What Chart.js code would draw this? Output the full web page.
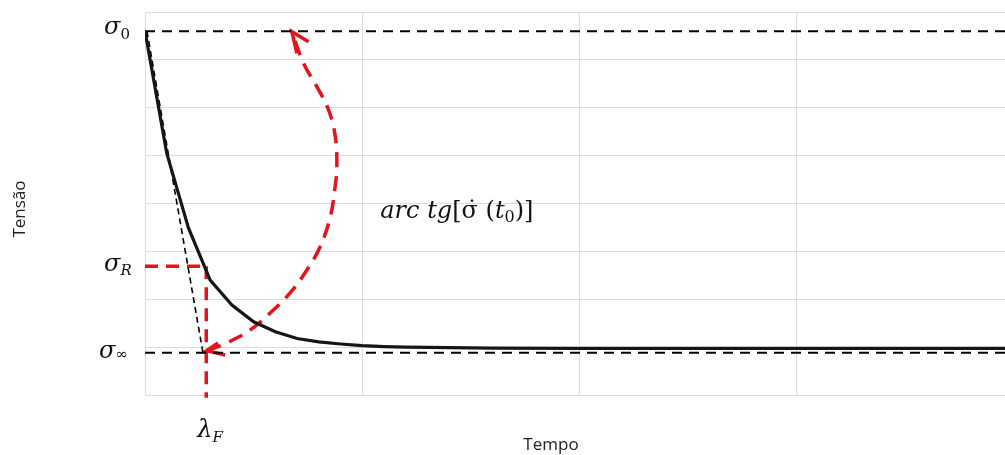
<!DOCTYPE html>
<html>
<head>
<meta charset="utf-8">
<script src="https://cdn.jsdelivr.net/npm/chart.js@4"></script>
<style>
  html, body { margin: 0; padding: 0; background: #fff; overflow: hidden; }
  #wrap { width: 1020px; height: 455px; position: relative; }
</style>
</head>
<body>
<div id="wrap"><canvas id="relaxChart"></canvas></div>
<script>
// stress relaxation curve (tempo in grid units, tensão in grid units)
const timeValues    = [0, 0.1, 0.2, 0.3, 0.4, 0.5, 0.6, 0.7, 0.8, 0.9, 1.0, 1.1, 1.2, 1.4, 1.6, 2.0, 3.0, 4.0];
const tensionValues = [7.60, 5.05, 3.49, 2.40, 1.88, 1.53, 1.32, 1.18, 1.11, 1.065, 1.03, 1.01, 1.0, 0.99, 0.98, 0.975, 0.975, 0.975];

// reference levels
const sigma0 = 7.60;
const sigmaR = 2.69;
const sigmaInf = 0.88;
const lambdaF = 0.282;
const xMax = 4;

// tangent at t0
const tangentX = [0.009, 0.267];
const tangentY = [7.60, 0.877];

// red arc (arc tg) and arrow heads
const arcX = [0.284, 0.376, 0.484, 0.576, 0.668, 0.745, 0.806, 0.853, 0.876, 0.883, 0.876, 0.845, 0.791, 0.730, 0.676];
const arcY = [0.925, 1.086, 1.358, 1.713, 2.131, 2.611, 3.098, 3.724, 4.386, 4.769, 5.395, 5.953, 6.440, 6.928, 7.589];
const arrowTopX = [0.699, 0.676, 0.753];
const arrowTopY = [7.137, 7.589, 7.380];
const arrowBotX = [0.336, 0.284, 0.369];
const arrowBotY = [1.086, 0.925, 0.836];

const RED = '#e3141b';
const pts = (xs, ys) => xs.map((x, i) => ({ x: x, y: ys[i] }));

function lineSet(data, color, width, dash, extra) {
    return Object.assign({
        data: data,
        borderColor: color,
        borderWidth: width,
        borderDash: dash,
        pointRadius: 0,
        showLine: true,
        fill: false,
        tension: 0
    }, extra || {});
}

// draws a symbol with a subscript; returns total width
function drawSub(ctx, x, y, main, sub, mainFont, subFont, subDrop) {
    ctx.font = mainFont;
    ctx.fillText(main, x, y);
    const w = ctx.measureText(main).width;
    ctx.font = subFont;
    ctx.fillText(sub, x + w, y + subDrop);
    return w + ctx.measureText(sub).width;
}

const labelsPlugin = {
    id: 'labels',
    afterDraw(chart) {
        const ctx = chart.ctx;
        const xs = chart.scales.x, ys = chart.scales.y;
        const big = 'italic 24px "DejaVu Serif"';
        const subI = 'italic 15px "DejaVu Serif"';
        const subU = '15px "DejaVu Serif"';
        ctx.save();
        ctx.fillStyle = '#111';
        ctx.textBaseline = 'alphabetic';
        ctx.textAlign = 'left';

        drawSub(ctx, 104, ys.getPixelForValue(sigma0) + 3, 'σ', '0', big, subU, 5);
        drawSub(ctx, 104, ys.getPixelForValue(sigmaR) + 5, 'σ', 'R', big, subI, 4);
        drawSub(ctx, 99, ys.getPixelForValue(sigmaInf) + 5, 'σ', '∞', big, subU, 1);
        drawSub(ctx, xs.getPixelForValue(lambdaF) - 9, 437, 'λ', 'F', big, subI, 5);

        // arc tg[σ̇ (t0)]
        let px = xs.getPixelForValue(1.083);
        const py = ys.getPixelForValue(3.70);
        const f = '24px "DejaVu Serif"', fi = 'italic 24px "DejaVu Serif"';
        const parts = [['arc tg', fi], ['[', f], ['σ̇', f], [' (', f], ['t', fi]];
        parts.forEach(p => { ctx.font = p[1]; ctx.fillText(p[0], px, py); px += ctx.measureText(p[0]).width; });
        ctx.font = '16px "DejaVu Serif"';
        ctx.fillText('0', px, py + 4);
        px += ctx.measureText('0').width;
        ctx.font = f;
        ctx.fillText(')]', px, py);

        // axis titles
        ctx.font = '17px "Open Sans"';
        ctx.fillStyle = '#222';
        ctx.textAlign = 'center';
        ctx.fillText('Tempo', 551, 450);
        ctx.translate(25, 209);
        ctx.rotate(-Math.PI / 2);
        ctx.fillText('Tensão', 0, 0);
        ctx.restore();
    }
};

const ctx = document.getElementById('relaxChart').getContext('2d');

new Chart(ctx, {
    type: 'scatter',
    data: {
        datasets: [
            lineSet(pts(timeValues, tensionValues), '#161616', 3.2, []),
            lineSet(pts([0, xMax], [sigma0, sigma0]), '#000', 2, [10, 7]),
            lineSet(pts([0, xMax], [sigmaInf, sigmaInf]), '#000', 2, [10, 7]),
            lineSet(pts(tangentX, tangentY), '#000', 1.6, [6, 4]),
            lineSet(pts([0, lambdaF], [sigmaR, sigmaR]), RED, 3.5, [13, 8]),
            lineSet(pts([lambdaF, lambdaF], [sigmaR, -0.06]), RED, 3.5, [13, 8], { clip: false }),
            lineSet(pts(arcX, arcY), RED, 3.5, [15, 9], { tension: 0.4 }),
            lineSet(pts(arrowTopX, arrowTopY), RED, 3.5, []),
            lineSet(pts(arrowBotX, arrowBotY), RED, 3.5, [])
        ]
    },
    options: {
        responsive: true,
        maintainAspectRatio: false,
        animation: false,
        layout: { padding: { left: 145, right: 6, top: 12, bottom: 60 } },
        plugins: {
            legend: { display: false },
            tooltip: { enabled: false }
        },
        scales: {
            x: {
                type: 'linear',
                min: 0,
                max: xMax,
                grid: { color: '#dcdcdc', lineWidth: 1, drawTicks: false },
                border: { display: false },
                ticks: { display: false, stepSize: 1 }
            },
            y: {
                type: 'linear',
                min: 0,
                max: 8,
                grid: { color: '#dcdcdc', lineWidth: 1, drawTicks: false },
                border: { display: false },
                ticks: { display: false, stepSize: 1 }
            }
        }
    },
    plugins: [labelsPlugin]
});
</script>
</body>
</html>
